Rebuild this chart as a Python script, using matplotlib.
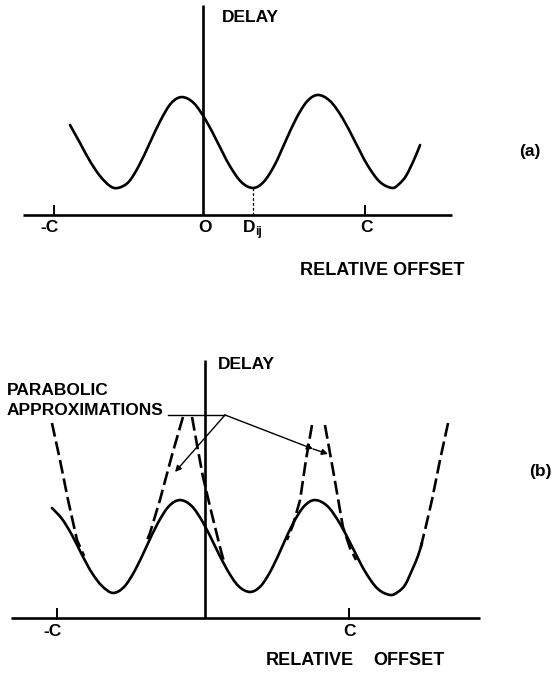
import matplotlib
matplotlib.use("Agg")
import matplotlib.pyplot as plt
from matplotlib.path import Path
from matplotlib.patches import PathPatch

plt.rcParams['font.family'] = ['Liberation Sans', 'DejaVu Sans']
plt.rcParams['lines.scale_dashes'] = False

# ---------------- panel (a): delay vs relative offset (offset unit: C = 1) ----------------
a_offset = [-0.821, -0.759, -0.698, -0.636, -0.574, -0.525, -0.459, -0.393, -0.327, -0.261,
            -0.196, -0.130, -0.057, 0.017, 0.090, 0.162, 0.236, 0.309, 0.375, 0.443,
            0.509, 0.576, 0.643, 0.710, 0.786, 0.862, 0.938, 1.014, 1.091, 1.167,
            1.210, 1.253, 1.302, 1.340]
a_delay = [0.556, 0.444, 0.333, 0.241, 0.179, 0.167, 0.204, 0.309, 0.448, 0.586,
           0.691, 0.728, 0.691, 0.586, 0.448, 0.309, 0.204, 0.167, 0.205, 0.310,
           0.454, 0.597, 0.702, 0.741, 0.702, 0.597, 0.454, 0.310, 0.205, 0.167,
           0.191, 0.241, 0.340, 0.432]
a_tick_pos = [-0.92, 1.0]
a_tick_lab = ['-C', 'C']
a_dij = 0.309
a_dij_delay = 0.167

# ---------------- panel (b): curve with parabolic approximations ----------------
b_offset = [-1.063, -0.993, -0.924, -0.854, -0.785, -0.715, -0.639, -0.561, -0.484, -0.406,
            -0.328, -0.251, -0.174, -0.092, -0.012, 0.069, 0.151, 0.231, 0.313, 0.388,
            0.463, 0.538, 0.613, 0.689, 0.764, 0.851, 0.938, 1.024, 1.111, 1.198,
            1.285, 1.340, 1.389, 1.438, 1.479, 1.507]
b_delay = [0.764, 0.688, 0.576, 0.438, 0.313, 0.222, 0.174, 0.217, 0.335, 0.497,
           0.658, 0.776, 0.819, 0.777, 0.660, 0.500, 0.340, 0.223, 0.181, 0.223,
           0.340, 0.500, 0.660, 0.777, 0.819, 0.776, 0.654, 0.490, 0.324, 0.204,
           0.160, 0.181, 0.229, 0.333, 0.431, 0.521]

# dashed parabola branches (one list per branch)
para_offset = [
    [-1.063, -1.007, -0.951, -0.889, -0.840],
    [-0.153, -0.229, -0.313, -0.382, -0.410],
    [-0.090, -0.049, -0.014, 0.049, 0.104, 0.132],
    [0.743, 0.701, 0.660, 0.611, 0.569],
    [0.833, 0.889, 0.958, 1.007, 1.049],
    [1.688, 1.632, 1.576, 1.528, 1.493],
]
para_delay = [
    [1.354, 1.097, 0.819, 0.542, 0.431],
    [1.396, 1.132, 0.819, 0.590, 0.521],
    [1.396, 1.167, 0.979, 0.715, 0.493, 0.389],
    [1.340, 1.097, 0.819, 0.646, 0.542],
    [1.340, 1.028, 0.632, 0.486, 0.403],
    [1.354, 1.097, 0.819, 0.611, 0.472],
]
b_tick_pos = [-1.028, 1.0]
b_tick_lab = ['-C', 'C']

# leader for the "PARABOLIC APPROXIMATIONS" note
lead_start = (-0.257, 1.410)
lead_join = (0.139, 1.410)
lead_tip_left = (-0.208, 1.014)
lead_tip_mid = (0.750, 1.174)
lead_tip_right = (0.854, 1.139)

# ---------------- layout ----------------
W, H = 556, 675
fig = plt.figure(figsize=(W / 100, H / 100), dpi=100)
fig.patch.set_facecolor('white')

FS = 12.5
FW = 'bold'
LW = 1.9
DASH = (10, 3.6)


def panel(origin, unit, top, bottom):
    ox, oy = origin
    ax = fig.add_axes([0, 1 - bottom / H, 1, (bottom - top) / H])
    ax.set_xlim(-ox / unit, (W - ox) / unit)
    ax.set_ylim((oy - bottom) / unit, (oy - top) / unit)
    ax.axis('off')
    return ax


def txt(ax, x, y, s, ha='left', size=FS):
    ax.text(x, y, s, ha=ha, va='center', fontsize=size, fontweight=FW, color='black')


def smooth_curve(ax, xs, ys, **kw):
    """Draw a smooth pen stroke through the given points (Catmull-Rom as cubic Beziers)."""
    pts = list(zip(xs, ys))
    n = len(pts)
    verts = [pts[0]]
    codes = [Path.MOVETO]
    for i in range(n - 1):
        p0 = pts[max(i - 1, 0)]
        p1 = pts[i]
        p2 = pts[i + 1]
        p3 = pts[min(i + 2, n - 1)]
        c1 = (p1[0] + (p2[0] - p0[0]) / 6, p1[1] + (p2[1] - p0[1]) / 6)
        c2 = (p2[0] - (p3[0] - p1[0]) / 6, p2[1] - (p3[1] - p1[1]) / 6)
        verts += [c1, c2, p2]
        codes += [Path.CURVE4] * 3
    ax.add_patch(PathPatch(Path(verts, codes), fill=False, edgecolor='black',
                           capstyle='round', joinstyle='round', **kw))


# ---- panel (a)
axa = panel((203, 215), 162, 0, 337.5)
axa.plot([-1.111, 1.537], [0, 0], color='black', lw=LW, solid_capstyle='butt')
axa.plot([0, 0], [0, 1.296], color='black', lw=LW, solid_capstyle='butt')
axa.vlines(a_tick_pos, 0, 0.06, color='black', lw=1.4)
smooth_curve(axa, a_offset, a_delay, lw=LW)
axa.plot([a_dij, a_dij], [0, a_dij_delay], color='black', lw=0.9, dashes=(2, 1.5))

tick_y = -0.080
txt(axa, a_tick_pos[0] - 0.03, tick_y, a_tick_lab[0], ha='center')
txt(axa, a_tick_pos[1] + 0.01, tick_y, a_tick_lab[1], ha='center')
txt(axa, 0.012, tick_y, 'O', ha='center')
txt(axa, a_dij - 0.062, tick_y, 'D')
txt(axa, a_dij + 0.012, tick_y - 0.028, 'ij', size=8.5)

txt(axa, 0.117, 1.222, 'DELAY')
txt(axa, 0.599, -0.340, 'RELATIVE OFFSET', size=13)
txt(axa, 2.019, 0.389, '(a)', ha='center')

# ---- panel (b)
axb = panel((205, 618), 144, 337.5, 675)
axb.plot([-1.347, 1.910], [0, 0], color='black', lw=LW, solid_capstyle='butt')
axb.plot([0, 0], [0, 1.792], color='black', lw=LW, solid_capstyle='butt')
axb.vlines(b_tick_pos, -0.015, 0.07, color='black', lw=1.4)
smooth_curve(axb, b_offset, b_delay, lw=LW)
for px, py in zip(para_offset, para_delay):
    axb.plot(px, py, color='black', lw=LW, dashes=DASH)

axb.plot([lead_start[0], lead_join[0]], [lead_start[1], lead_join[1]], color='black', lw=1.0)
arrow = dict(arrowstyle='-|>', color='black', lw=1.0, mutation_scale=9, shrinkA=0, shrinkB=0)
axb.annotate('', xy=lead_tip_left, xytext=lead_join, arrowprops=arrow)
axb.annotate('', xy=lead_tip_mid, xytext=lead_join, arrowprops=arrow)
axb.annotate('', xy=lead_tip_right, xytext=lead_tip_mid, arrowprops=arrow)

tick_yb = -0.097
txt(axb, b_tick_pos[0] - 0.03, tick_yb, b_tick_lab[0], ha='center')
txt(axb, b_tick_pos[1], tick_yb, b_tick_lab[1], ha='center')

txt(axb, 0.090, 1.757, 'DELAY')
txt(axb, -1.375, 1.583, 'PARABOLIC')
txt(axb, -1.375, 1.444, 'APPROXIMATIONS')
txt(axb, 0.424, -0.292, 'RELATIVE', size=13)
txt(axb, 1.170, -0.292, 'OFFSET', size=13)
txt(axb, 2.326, 1.014, '(b)', ha='center')

fig.savefig('out.png', dpi=100, facecolor='white')
